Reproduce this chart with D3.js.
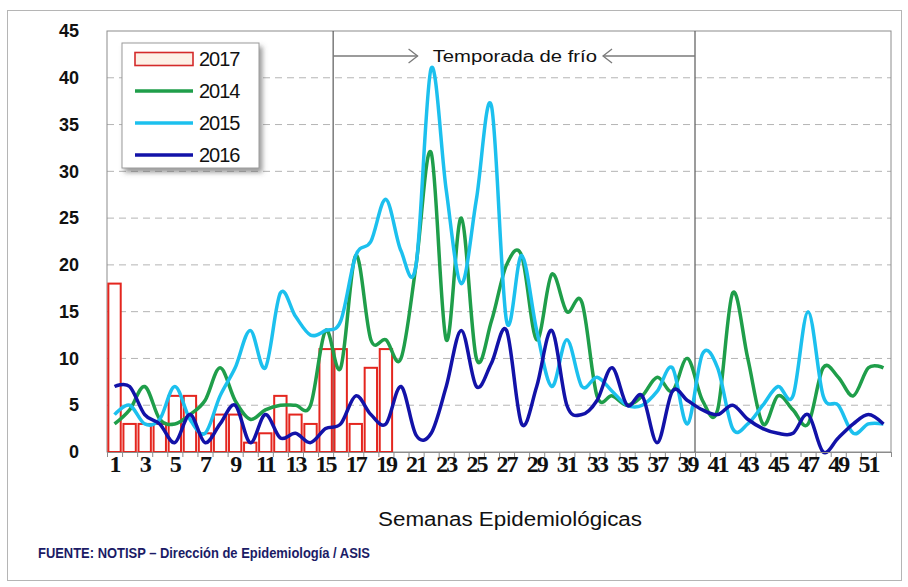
<!DOCTYPE html>
<html>
<head>
<meta charset="utf-8">
<script src="https://cdn.jsdelivr.net/npm/d3@7"></script>
<style>
  body { margin: 0; background: #fff; }
  svg { display: block; }
</style>
</head>
<body>
<div id="chart"></div>
<script>
// semanas epidemiologicas
const semanas = d3.range(1, 53);
const semanasEtiqueta = semanas.filter(s => s % 2 === 1);

// 2017, barras (semanas 1 a 19)
const casos2017 = [18, 3, 3, 3, 6, 6, 2, 4, 4, 1, 2, 6, 4, 3, 11, 11, 3, 9, 11];

const casos2014 = [3, 4.5, 7, 3.5, 3, 4, 5.5, 9, 5.5, 3.5, 4.5, 5, 5, 5, 13, 9, 21, 12, 12, 10,
  20, 32, 12, 25, 10, 14, 20, 21, 12, 19, 15, 16, 6, 6, 5, 6, 8, 6.5, 10, 5.5,
  4.5, 17, 10, 3, 6, 4.5, 3, 9, 8, 6, 9, 9];

const casos2015 = [4, 5, 3, 3.5, 7, 3.5, 2, 6, 9, 13, 9, 17, 14.5, 12.5, 13, 14, 21, 22.5, 27, 21.5,
  20, 41, 28, 18, 27, 37, 14, 21, 13, 7, 12, 7, 8, 6.5, 5, 5, 6.5, 9, 3, 10.5,
  9, 2.5, 3, 5, 7, 6, 15, 6, 5, 2, 3, 3];

const casos2016 = [7, 7, 4, 3, 1, 4, 1, 3, 5, 1, 4, 1.5, 2, 1, 2.5, 3, 6, 4, 3, 7,
  1.8, 2, 7, 13, 7, 9.5, 13, 3, 7, 13, 5, 4, 5.5, 9, 5, 6, 1, 6.5, 5.5, 4.5,
  4, 5, 3.5, 2.5, 2, 2, 4, 0, 1.5, 3, 4, 3];

const yTicks = [0, 5, 10, 15, 20, 25, 30, 35, 40, 45];

const series = [
  { nombre: "2014", valores: casos2014, color: "#1f9e4a" },
  { nombre: "2015", valores: casos2015, color: "#1cc0ee" },
  { nombre: "2016", valores: casos2016, color: "#1212a8" }
];

const W = 908, H = 587;
const svg = d3.select("#chart").append("svg")
  .attr("width", W)
  .attr("height", H);

const defs = svg.append("defs");
defs.append("filter").attr("id", "sombra")
  .attr("x", "-10%").attr("y", "-10%").attr("width", "130%").attr("height", "130%")
  .append("feDropShadow")
  .attr("dx", 3).attr("dy", 4).attr("stdDeviation", 2.5)
  .attr("flood-color", "#555").attr("flood-opacity", 0.6);

// marco exterior
svg.append("rect")
  .attr("x", 7.5).attr("y", 10.5).attr("width", 894).attr("height", 570)
  .attr("fill", "#fff").attr("stroke", "#b5b5b5");

const x = d3.scaleBand().domain(semanas).range([107, 891]);
const xl = d3.scaleLinear().domain([0, 52]).range([107, 891]);
const y = d3.scaleLinear().domain([0, 45]).range([452, 31]);
const bw = x.bandwidth();

// lineas de cuadricula
svg.append("g")
  .selectAll("line")
  .data(yTicks.filter(t => t > 0 && t < 45))
  .enter().append("line")
  .attr("x1", 107).attr("x2", 891)
  .attr("y1", d => y(d)).attr("y2", d => y(d))
  .attr("stroke", "#b4b4b4")
  .attr("stroke-dasharray", "7,5");

// area de trazado
svg.append("rect")
  .attr("x", 107).attr("y", y(45))
  .attr("width", 784).attr("height", y(0) - y(45))
  .attr("fill", "none")
  .attr("stroke", "#8c8c8c");

// temporada de frio
svg.append("g")
  .selectAll("line")
  .data([15, 39])
  .enter().append("line")
  .attr("x1", d => xl(d)).attr("x2", d => xl(d))
  .attr("y1", y(45)).attr("y2", y(0))
  .attr("stroke", "#5a5a5a")
  .attr("stroke-width", 1.2);

const yFlecha = 56;
const flechas = svg.append("g")
  .attr("fill", "none")
  .attr("stroke", "#7a7a7a")
  .attr("stroke-width", 1.3);
flechas.append("line")
  .attr("x1", xl(15)).attr("x2", xl(20.6))
  .attr("y1", yFlecha).attr("y2", yFlecha);
flechas.append("path")
  .attr("d", `M${xl(20.6) - 9},${yFlecha - 7}L${xl(20.6)},${yFlecha}L${xl(20.6) - 9},${yFlecha + 7}`);
flechas.append("line")
  .attr("x1", xl(32.9)).attr("x2", xl(39))
  .attr("y1", yFlecha).attr("y2", yFlecha);
flechas.append("path")
  .attr("d", `M${xl(32.9) + 9},${yFlecha - 7}L${xl(32.9)},${yFlecha}L${xl(32.9) + 9},${yFlecha + 7}`);

svg.append("text")
  .attr("x", (xl(21.6) + xl(32.5)) / 2)
  .attr("y", yFlecha)
  .attr("dy", "0.35em")
  .attr("text-anchor", "middle")
  .attr("textLength", xl(32.5) - xl(21.6))
  .attr("lengthAdjust", "spacingAndGlyphs")
  .style("font-family", "Liberation Sans, Arial, sans-serif")
  .style("font-size", "16px")
  .style("fill", "#111")
  .text("Temporada de frío");

// barras 2017
svg.append("g")
  .selectAll("rect")
  .data(casos2017)
  .enter().append("rect")
  .attr("x", (d, i) => x(semanas[i]) + bw * 0.09)
  .attr("width", bw * 0.82)
  .attr("y", d => y(d))
  .attr("height", d => y(0) - y(d))
  .attr("fill", "#fff")
  .attr("stroke", "#e4261f")
  .attr("stroke-width", 2);

// lineas suavizadas
const linea = d3.line()
  .x((d, i) => x(semanas[i]) + bw / 2)
  .y(d => y(d))
  .curve(d3.curveCardinal.tension(0));

svg.append("g")
  .selectAll("path")
  .data(series)
  .enter().append("path")
  .attr("d", d => linea(d.valores))
  .attr("fill", "none")
  .attr("stroke", d => d.color)
  .attr("stroke-width", 3.5)
  .attr("stroke-linejoin", "round");

// ejes
const ejeY = svg.append("g")
  .attr("transform", "translate(107,0)")
  .call(d3.axisLeft(y).tickValues(yTicks).tickSize(0).tickPadding(28));
ejeY.select(".domain").remove();
ejeY.selectAll("text")
  .style("font-family", "Liberation Sans, Arial, sans-serif")
  .style("font-weight", "bold")
  .style("font-size", "18px")
  .style("fill", "#111");

const marcas = svg.append("g")
  .attr("transform", `translate(0,${y(0)})`)
  .call(d3.axisBottom(xl).tickValues(d3.range(0, 53)).tickFormat("").tickSize(5));
marcas.select(".domain").attr("stroke", "#8c8c8c");
marcas.selectAll("line").attr("stroke", "#8c8c8c");

const ejeX = svg.append("g")
  .attr("transform", `translate(0,${y(0)})`)
  .call(d3.axisBottom(x).tickValues(semanasEtiqueta).tickSize(0).tickPadding(3));
ejeX.select(".domain").remove();
ejeX.selectAll("text")
  .style("font-family", "Liberation Serif, Times New Roman, serif")
  .style("font-weight", "bold")
  .style("font-size", "24px")
  .style("letter-spacing", "-2px")
  .style("fill", "#111");

svg.append("text")
  .attr("x", 510).attr("y", 526)
  .attr("text-anchor", "middle")
  .attr("textLength", 264)
  .attr("lengthAdjust", "spacingAndGlyphs")
  .style("font-family", "Liberation Sans, Arial, sans-serif")
  .style("font-size", "20px")
  .style("fill", "#111")
  .text("Semanas Epidemiológicas");

svg.append("text")
  .attr("x", 38).attr("y", 558)
  .attr("textLength", 332)
  .attr("lengthAdjust", "spacingAndGlyphs")
  .style("font-family", "Liberation Sans, Arial, sans-serif")
  .style("font-size", "14px")
  .style("font-weight", "bold")
  .style("fill", "#1b1b66")
  .text("FUENTE: NOTISP – Dirección de Epidemiología / ASIS");

// leyenda
const leyenda = svg.append("g").attr("transform", "translate(122,43)");
leyenda.append("rect")
  .attr("width", 137).attr("height", 125)
  .attr("fill", "#fff")
  .attr("stroke", "#9a9a9a")
  .attr("filter", "url(#sombra)");

const itemsLeyenda = [{ nombre: "2017", color: "#e4261f", barra: true }].concat(series);
const item = leyenda.selectAll("g.item")
  .data(itemsLeyenda)
  .enter().append("g")
  .attr("class", "item")
  .attr("transform", (d, i) => `translate(13,${16 + i * 32})`);

item.filter(d => d.barra).append("rect")
  .attr("x", 0).attr("y", -6.5).attr("width", 58).attr("height", 13)
  .attr("fill", "#fdf0e6")
  .attr("stroke", "#d42a2a")
  .attr("stroke-width", 1.6);
item.filter(d => !d.barra).append("line")
  .attr("x1", 0).attr("x2", 58)
  .attr("stroke", d => d.color)
  .attr("stroke-width", 3.5);
item.append("text")
  .attr("x", 64).attr("dy", "0.36em")
  .style("font-family", "Liberation Sans, Arial, sans-serif")
  .style("font-size", "20px")
  .style("letter-spacing", "-1px")
  .style("fill", "#111")
  .text(d => d.nombre);
</script>
</body>
</html>
